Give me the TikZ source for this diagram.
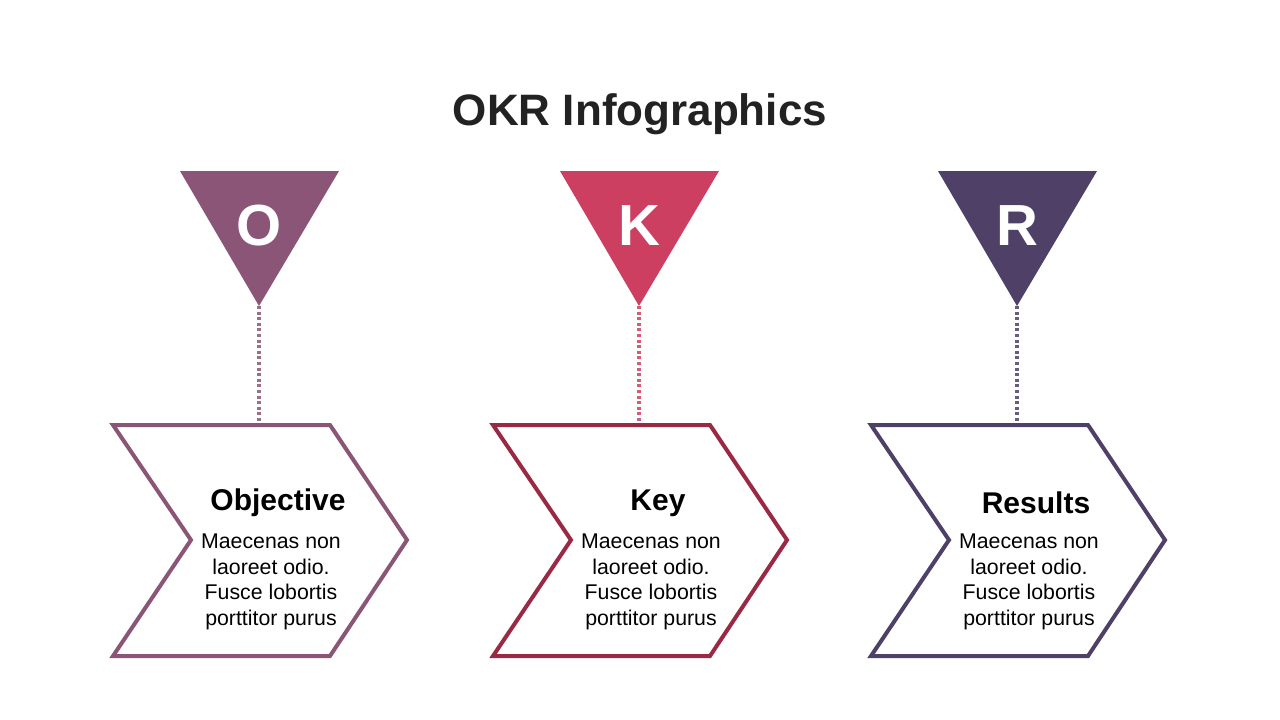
\documentclass[tikz,border=0pt]{standalone}
\usepackage{fontspec}
\setmainfont{Liberation Sans}
\definecolor{cO}{HTML}{8A5576}
\definecolor{cK}{HTML}{CC3F61}
\definecolor{cKd}{HTML}{9A2944}
\definecolor{cR}{HTML}{4F4068}
\definecolor{titlec}{HTML}{222222}
\tikzset{
  chev/.style={line width=4pt, line join=miter, fill=white},
  letter/.style={text=white, font=\fontsize{58}{58}\selectfont\bfseries, inner sep=0pt},
  head/.style={font=\fontsize{30}{32}\selectfont\bfseries, text=black, inner sep=0pt},
  body/.style={font=\fontsize{21.3}{25.5}\selectfont, text=black, align=center, inner sep=0pt},
  link/.style={line width=3.2pt, dash pattern=on 3pt off 2.6pt}
}
\begin{document}
\begin{tikzpicture}[x=1pt,y=-1pt]
\useasboundingbox[fill=white] (0,0) rectangle (1280,720);
\node[font=\fontsize{44}{44}\selectfont\bfseries, text=titlec] (title) at (640,114) {OKR Infographics};
\foreach \dx/\L/\tc/\sc/\hd/\nm in {0/O/cO/cO/Objective/o, 380/K/cK/cKd/Key/k, 758/R/cR/cR/Results/r}{
  \fill[\tc] (180+\dx,171) -- (339+\dx,171) -- (259+\dx,306) -- cycle;
  \coordinate (\nm apex) at (259+\dx,306);
  \coordinate (\nm top) at (259+\dx,423);
  \draw[chev, draw=\sc] (113+\dx,425) -- (330+\dx,425) -- (407+\dx,540) -- (330+\dx,656) -- (113+\dx,656) -- (191+\dx,540) -- cycle;
  \node[letter] (\nm letter) at (259+\dx,226) {\L};
  \draw[link, draw=\tc!85] (\nm apex) -- (\nm top);
  \node[head] (\nm head) at (278+\dx,503) {\hd};
  \node[body] (\nm body) at (271+\dx,582) {Maecenas non\\laoreet odio.\\Fusce lobortis\\porttitor purus};
}
\end{tikzpicture}
\end{document}
